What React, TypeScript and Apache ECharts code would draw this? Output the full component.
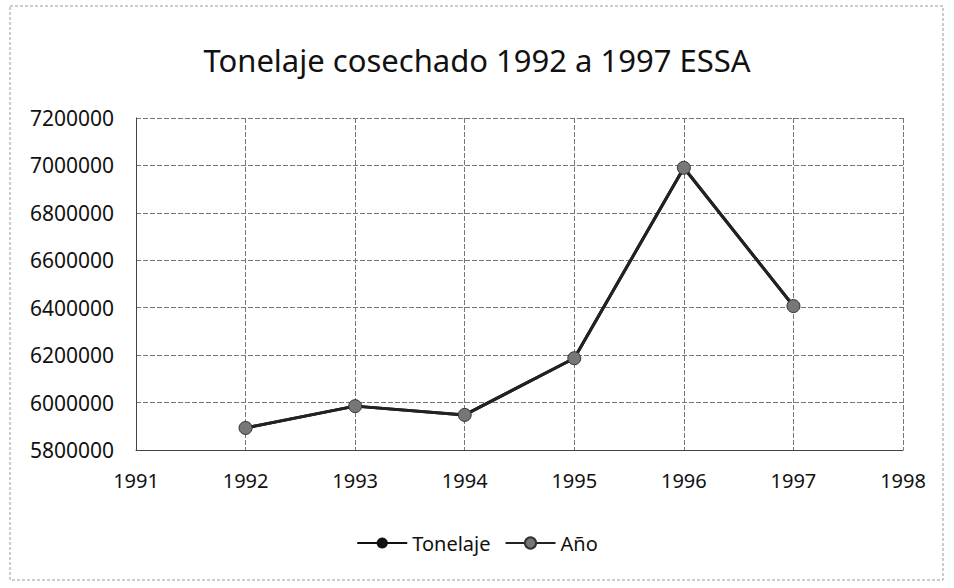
import React, { useEffect, useRef } from "react";
import * as echarts from "echarts";

const years = [1992, 1993, 1994, 1995, 1996, 1997];
const tonelaje = [5893000, 5985000, 5948000, 6187000, 6990000, 6407000];
const titleText = "Tonelaje cosechado 1992 a 1997 ESSA";
const seriesNames = ["Tonelaje", "Año"];

export default function App() {
  const ref = useRef<HTMLDivElement>(null);
  useEffect(() => {
    if (!ref.current) return;
    const chart = echarts.init(ref.current, null, { renderer: "svg" });
    const pts = years.map((y, i) => [y, tonelaje[i]]);
    const font = "Noto Sans";
    chart.setOption({
      animation: false,
      backgroundColor: "#fff",
      title: {
        text: titleText,
        left: "center",
        top: 39,
        textStyle: { fontFamily: font, fontSize: 31, fontWeight: "normal", color: "#111" },
      },
      legend: {
        bottom: 30,
        left: "center",
        itemWidth: 50,
        itemHeight: 14,
        itemGap: 14,
        textStyle: { fontFamily: font, fontSize: 20, color: "#111" },
        data: seriesNames,
      },
      grid: { left: 136, right: 51, top: 118, bottom: 138 },
      xAxis: {
        type: "value",
        min: 1991,
        max: 1998,
        interval: 1,
        axisLine: { show: true, lineStyle: { color: "#444" } },
        axisTick: { show: false },
        axisLabel: { fontFamily: font, fontSize: 20, color: "#111", margin: 20, formatter: (v: number) => String(v) },
        splitLine: { show: true, lineStyle: { color: "#777", type: [5, 2] } },
      },
      yAxis: {
        type: "value",
        min: 5800000,
        max: 7200000,
        interval: 200000,
        axisLine: { show: true, lineStyle: { color: "#444" } },
        axisTick: { show: false },
        axisLabel: { fontFamily: font, fontSize: 21, color: "#111", margin: 22, formatter: (v: number) => String(v) },
        splitLine: { show: true, lineStyle: { color: "#777", type: [5, 2] } },
      },
      series: [
        {
          name: seriesNames[0],
          type: "line",
          data: pts,
          symbol: "circle",
          symbolSize: 12,
          lineStyle: { color: "#111", width: 3 },
          itemStyle: { color: "#111" },
          z: 2,
        },
        {
          name: seriesNames[1],
          type: "line",
          data: pts,
          symbol: "circle",
          symbolSize: 13,
          lineStyle: { color: "#222", width: 3 },
          itemStyle: { color: "#777", borderColor: "#333", borderWidth: 1 },
          z: 3,
        },
      ],
      graphic: [
        {
          type: "rect",
          shape: { x: 10, y: 6, width: 933, height: 574 },
          style: { fill: "none", stroke: "#999", lineWidth: 1, lineDash: [3, 2] },
          silent: true,
        },
      ],
    });
    return () => chart.dispose();
  }, []);
  return <div ref={ref} style={{ width: 954, height: 588, position: "absolute", left: 0, top: 0 }} />;
}
